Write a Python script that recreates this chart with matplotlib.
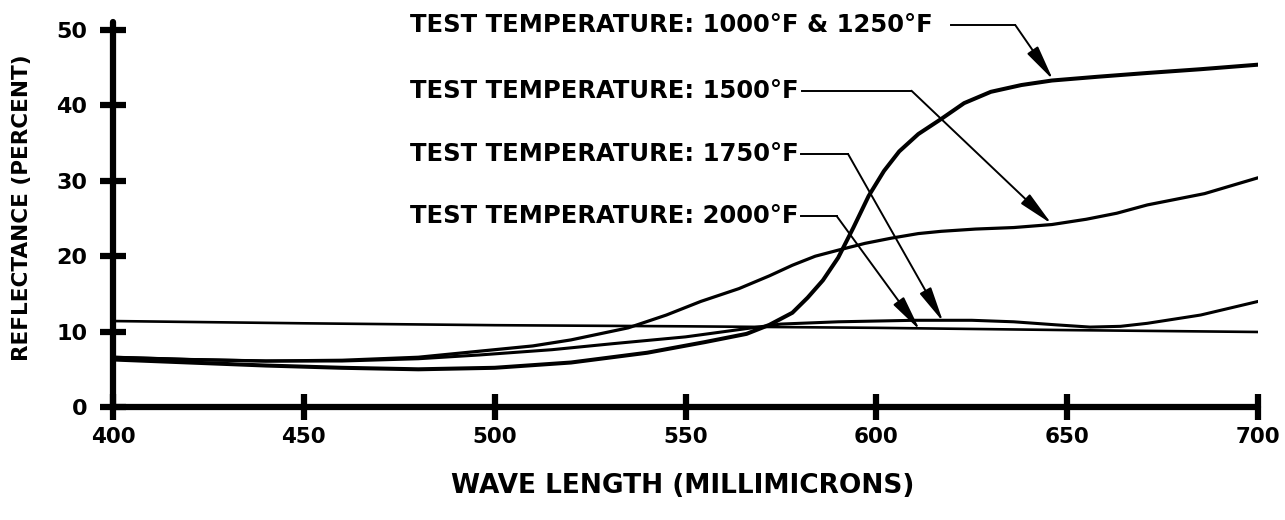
import matplotlib
matplotlib.use("Agg")
import matplotlib.pyplot as plt

plt.rcParams['font.family'] = ['DejaVu Sans']
plt.rcParams['font.weight'] = 'bold'

# ---- data ----
x_1000 = [400, 420, 440, 460, 480, 500, 520, 540, 555, 566, 572, 578, 582, 586, 590,
          594, 598, 602, 606, 611, 617, 623, 630, 638, 646, 658, 671, 685, 700]
y_1000 = [6.3, 5.9, 5.5, 5.2, 5.0, 5.2, 5.9, 7.2, 8.6, 9.7, 10.9, 12.5, 14.5, 16.8, 19.8,
          23.8, 28.0, 31.3, 33.9, 36.2, 38.2, 40.3, 41.8, 42.7, 43.3, 43.8, 44.3, 44.8, 45.4]

x_1500 = [400, 420, 440, 460, 480, 496, 510, 520, 535, 545, 554, 564, 572, 578, 584,
          590, 597, 604, 611, 617, 626, 636, 646, 655, 663, 671, 686, 700]
y_1500 = [6.6, 6.3, 6.1, 6.2, 6.6, 7.4, 8.1, 8.9, 10.5, 12.2, 14.0, 15.7, 17.4, 18.8, 20.0,
          20.8, 21.7, 22.4, 23.0, 23.3, 23.6, 23.8, 24.2, 24.9, 25.7, 26.8, 28.3, 30.4]

x_1750 = [400, 420, 440, 460, 480, 496, 515, 531, 550, 566, 575, 590, 610, 625, 636,
          647, 656, 664, 671, 685, 700]
y_1750 = [6.6, 6.3, 6.1, 6.1, 6.4, 6.9, 7.6, 8.4, 9.3, 10.4, 11.0, 11.3, 11.5, 11.5, 11.3,
          10.9, 10.6, 10.7, 11.1, 12.2, 14.0]

x_2000 = [400, 450, 500, 550, 600, 650, 700]
y_2000 = [11.4, 11.1, 10.85, 10.7, 10.5, 10.2, 9.95]

x_ticks = [400, 450, 500, 550, 600, 650, 700]
y_ticks = [0, 10, 20, 30, 40, 50]

labels = ["TEST TEMPERATURE: 1000°F & 1250°F",
          "TEST TEMPERATURE: 1500°F",
          "TEST TEMPERATURE: 1750°F",
          "TEST TEMPERATURE: 2000°F"]

# ---- figure ----
fig = plt.figure(figsize=(12.85, 5.2), dpi=100)
ax = fig.add_axes([113 / 1285, 113 / 520, 1145 / 1285, 51 * 7.54 / 520])
ax.set_xlim(400, 700)
ax.set_ylim(0, 51)

ax.plot(x_2000, y_2000, color='k', lw=1.9, solid_capstyle='round')
ax.plot(x_1750, y_1750, color='k', lw=2.2, solid_capstyle='round')
ax.plot(x_1500, y_1500, color='k', lw=2.3, solid_capstyle='round')
ax.plot(x_1000, y_1000, color='k', lw=2.9, solid_capstyle='round')

for s in ('top', 'right'):
    ax.spines[s].set_visible(False)
for s in ('left', 'bottom'):
    ax.spines[s].set_linewidth(4.5)
    ax.spines[s].set_capstyle('round')

ax.set_xticks(x_ticks)
ax.set_yticks(y_ticks)
ax.set_xticklabels([str(v) for v in x_ticks])
ax.set_yticklabels([str(v) for v in y_ticks])
ax.tick_params(axis='both', direction='inout', length=19, width=4.5, color='k')
ax.tick_params(axis='x', pad=5, labelsize=15.5)
ax.tick_params(axis='y', pad=9, labelsize=16)
for lab in ax.get_xticklabels() + ax.get_yticklabels():
    lab.set_fontweight('bold')

# ---- annotations ----
text_x = 477.8
text_y = [50.66, 41.95, 33.55, 25.33]
line_start = [619.5, 580.5, 580.2, 580.2]
corner_x = [636.4, 609.2, 592.6, 589.6]
tips = [(646.3, 43.4), (645.9, 24.3), (617.5, 11.3), (611.4, 10.2)]

for lab, ty, xs, cx, tip in zip(labels, text_y, line_start, corner_x, tips):
    ax.text(text_x, ty, lab, fontsize=17.5, fontweight='bold', ha='left', va='center',
            clip_on=False)
    ax.plot([xs, cx], [ty, ty], color='k', lw=1.4, clip_on=False)
    ax.annotate('', xy=tip, xytext=(cx, ty), annotation_clip=False,
                arrowprops=dict(arrowstyle='-|>,head_length=1.2,head_width=0.22',
                                mutation_scale=18, lw=1.4, color='k',
                                shrinkA=0, shrinkB=0))

fig.text(22 / 1285, 1 - 208 / 520, "REFLECTANCE (PERCENT)", rotation=90,
         fontsize=15.5, fontweight='bold', ha='center', va='center')
fig.text(683 / 1285, 1 - 486 / 520, "WAVE LENGTH (MILLIMICRONS)",
         fontsize=19, fontweight='bold', ha='center', va='center')

fig.savefig("out.png", dpi=100, facecolor='white')
